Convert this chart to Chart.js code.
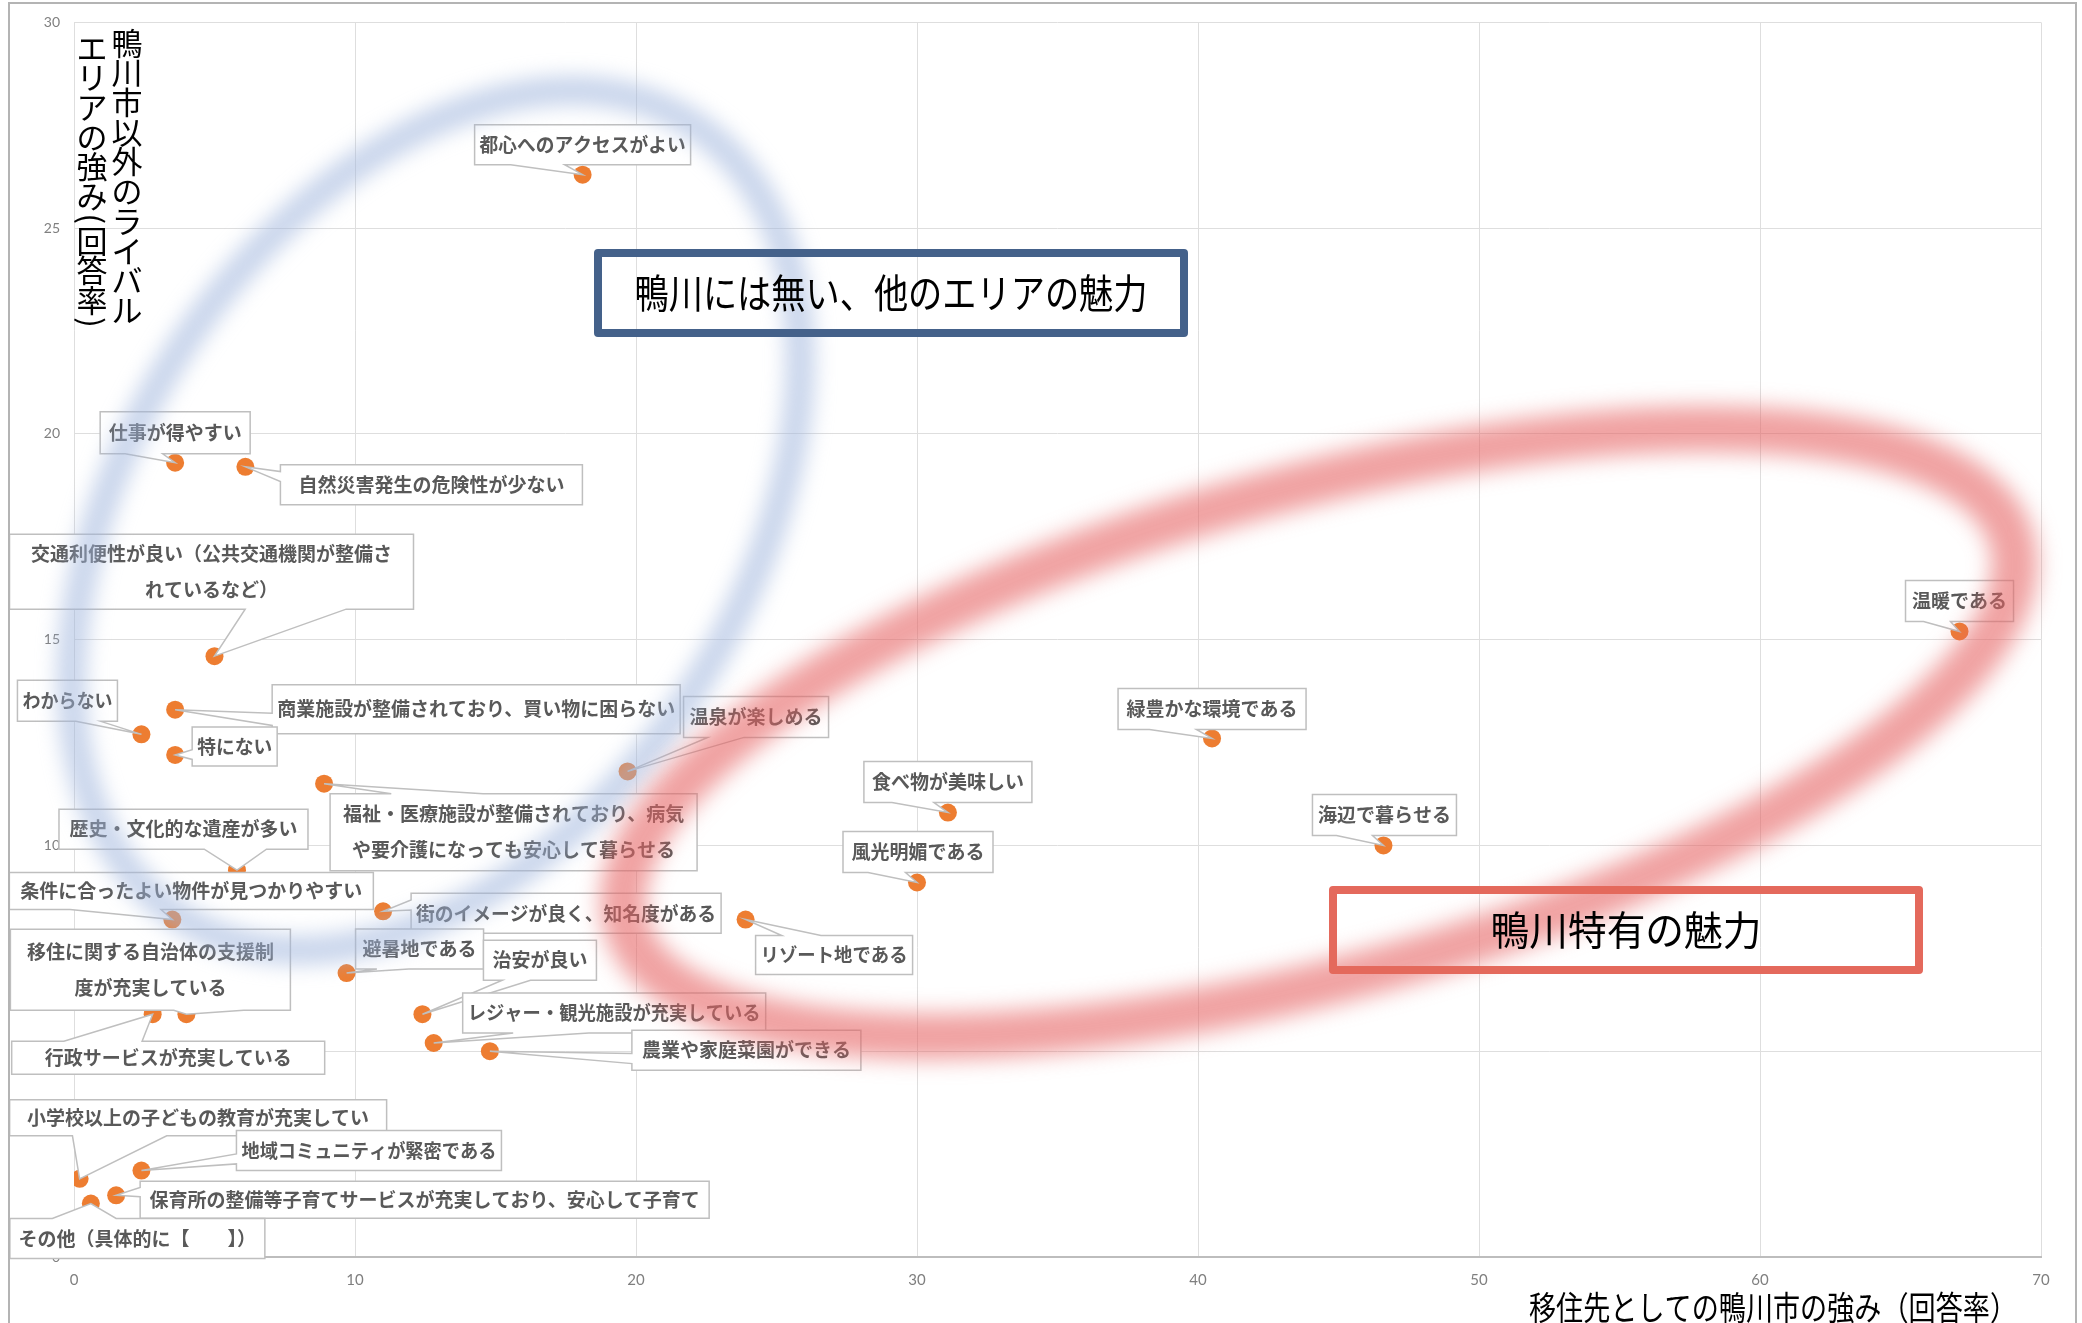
<!DOCTYPE html>
<html lang="ja">
<head>
<meta charset="utf-8">
<title>鴨川市の強み</title>
<script src="https://cdn.jsdelivr.net/npm/chart.js@4.4.1/dist/chart.umd.min.js"></script>
<style>
    html, body { margin: 0; padding: 0; background: #fff; }
    #wrap { width: 2082px; height: 1323px; }
</style>
</head>
<body>
<div id="wrap"><canvas id="myChart" width="2082" height="1323"></canvas></div>
<script>
// 項目
const categories = [
    '都心へのアクセスがよい',
    '仕事が得やすい',
    '自然災害発生の危険性が少ない',
    '交通利便性が良い（公共交通機関が整備されているなど）',
    'わからない',
    '商業施設が整備されており、買い物に困らない',
    '特にない',
    '福祉・医療施設が整備されており、病気や要介護になっても安心して暮らせる',
    '温泉が楽しめる',
    '歴史・文化的な遺産が多い',
    '条件に合ったよい物件が見つかりやすい',
    '街のイメージが良く、知名度がある',
    'リゾート地である',
    '風光明媚である',
    '食べ物が美味しい',
    '緑豊かな環境である',
    '海辺で暮らせる',
    '温暖である',
    '避暑地である',
    '治安が良い',
    'レジャー・観光施設が充実している',
    '農業や家庭菜園ができる',
    '移住に関する自治体の支援制度が充実している',
    '行政サービスが充実している',
    '小学校以上の子どもの教育が充実してい',
    '地域コミュニティが緊密である',
    '保育所の整備等子育てサービスが充実しており、安心して子育て',
    'その他（具体的に【　　】）'
];

// 移住先としての鴨川市の強み（回答率）
const kamogawaRate = [18.1, 3.6, 6.1, 5.0, 2.4, 3.6, 3.6, 8.9, 19.7, 5.8, 3.5, 11.0, 23.9, 30.0,
    31.1, 40.5, 46.6, 67.1, 9.7, 12.4, 12.8, 14.8, 4.0, 2.8, 0.2, 2.4, 1.5, 0.6];

// 鴨川市以外のライバルエリアの強み（回答率）
const rivalRate = [26.3, 19.3, 19.2, 14.6, 12.7, 13.3, 12.2, 11.5, 11.8, 9.4, 8.2, 8.4, 8.2, 9.1,
    10.8, 12.6, 10.0, 15.2, 6.9, 5.9, 5.2, 5.0, 5.9, 5.9, 1.9, 2.1, 1.5, 1.3];

const xTicks = [0, 10, 20, 30, 40, 50, 60, 70];
const yTicks = [0, 5, 10, 15, 20, 25, 30];

// 吹き出しの位置（点からのずれ, 幅, 高さ, 改行位置）
const calloutLayout = [
    [-108, -50, 216, 40], [-75, -51, 150, 42], [35, -2, 302, 40], [-205, -122, 404, 75, 19],
    [-124, -54, 100, 41], [97, -25, 408, 49], [17, -28, 85, 39], [6, 10, 367, 77, 18],
    [56, -75, 145, 41], [-178, -61, 249, 40], [-163, -47, 364, 37], [28, -18, 310, 40],
    [10, 16, 157, 39], [-74, -51, 150, 41], [-84, -51, 168, 41], [-94, -50, 188, 41],
    [-71, -51, 144, 41], [-54, -51, 108, 41], [9, -44, 128, 40], [61, -74, 113, 40],
    [29, -50, 303, 40], [142, -21, 229, 40], [-176, -85, 280, 81, 13], [-141, 27, 313, 33],
    [-70, -79, 377, 36], [95, -40, 265, 40], [24, -14, 569, 37], [-81, 15, 255, 40]
];

const JP = '"Noto Sans CJK JP", "Noto Sans", sans-serif';
Chart.defaults.font.family = JP;

function calloutPath(ctx, l, t, w, h, tx, ty) {
    const cx = l + w / 2, cy = t + h / 2;
    const dx = tx - cx, dy = ty - cy;
    const dq = dx * h / w;
    const r = l + w, b = t + h;
    ctx.beginPath();
    ctx.moveTo(l, t);
    if (Math.abs(dy) > Math.abs(dq)) {
        const x1 = l + w * (dx > 0 ? 7 : 2) / 12, x2 = l + w * (dx > 0 ? 10 : 5) / 12;
        if (dy < 0) { ctx.lineTo(x1, t); ctx.lineTo(tx, ty); ctx.lineTo(x2, t); }
        ctx.lineTo(r, t);
        ctx.lineTo(r, b);
        if (dy > 0) { ctx.lineTo(x2, b); ctx.lineTo(tx, ty); ctx.lineTo(x1, b); }
        ctx.lineTo(l, b);
    } else {
        const y1 = t + h * (dy > 0 ? 7 : 2) / 12, y2 = t + h * (dy > 0 ? 10 : 5) / 12;
        ctx.lineTo(r, t);
        if (dx > 0) { ctx.lineTo(r, y1); ctx.lineTo(tx, ty); ctx.lineTo(r, y2); }
        ctx.lineTo(r, b);
        ctx.lineTo(l, b);
        if (dx < 0) { ctx.lineTo(l, y2); ctx.lineTo(tx, ty); ctx.lineTo(l, y1); }
    }
    ctx.closePath();
}

function fitText(ctx, text, x, y, maxW, force) {
    const m = ctx.measureText(text).width;
    if (force || m > maxW) {
        ctx.save();
        ctx.translate(x, y);
        ctx.scale(maxW / m, 1);
        ctx.fillText(text, 0, 0);
        ctx.restore();
    } else {
        ctx.fillText(text, x, y);
    }
}

function drawRing(ctx, cx, cy, rx, ry, rot, width, color, blur) {
    ctx.save();
    ctx.filter = 'blur(' + blur + 'px)';
    ctx.strokeStyle = color;
    ctx.lineWidth = width;
    ctx.beginPath();
    ctx.ellipse(cx, cy, rx, ry, rot, 0, Math.PI * 2);
    ctx.stroke();
    ctx.restore();
}

function drawVertical(ctx, text, x, y, pitch) {
    let cy = y;
    for (const ch of text) {
        if (ch === '(' || ch === ')') {
            const step = pitch * 0.5;
            ctx.save();
            ctx.translate(x, cy + step / 2);
            ctx.rotate(Math.PI / 2);
            ctx.fillText(ch, 0, 0);
            ctx.restore();
            cy += step;
        } else {
            ctx.fillText(ch, x, cy + pitch / 2);
            cy += pitch;
        }
    }
}

function drawBox(ctx, l, t, r, b, color, text, textW) {
    ctx.save();
    ctx.strokeStyle = color;
    ctx.lineWidth = 8;
    ctx.lineJoin = 'round';
    ctx.strokeRect(l + 4, t + 4, r - l - 8, b - t - 8);
    ctx.fillStyle = '#000';
    ctx.font = '40px ' + JP;
    ctx.textAlign = 'center';
    ctx.textBaseline = 'middle';
    fitText(ctx, text, (l + r) / 2, (t + b) / 2, textW, true);
    ctx.restore();
}

const overlay = {
    id: 'overlay',
    afterDatasetsDraw(chart) {
        const ctx = chart.ctx;
        const pts = chart.getDatasetMeta(0).data;
        const xs = chart.scales.x, ys = chart.scales.y;

        // 吹き出し
        ctx.save();
        ctx.font = 'bold 19px ' + JP;
        ctx.textAlign = 'center';
        ctx.textBaseline = 'middle';
        pts.forEach(function (p, i) {
            const lay = calloutLayout[i];
            const l = p.x + lay[0], t = p.y + lay[1], w = lay[2], h = lay[3];
            calloutPath(ctx, l, t, w, h, p.x, p.y);
            ctx.fillStyle = '#fff';
            ctx.fill();
            ctx.strokeStyle = '#bfbfbf';
            ctx.lineWidth = 1.5;
            ctx.stroke();
            ctx.fillStyle = '#595959';
            const name = categories[i];
            if (lay[4]) {
                fitText(ctx, name.slice(0, lay[4]), l + w / 2, t + h / 2 - 18, w - 10);
                fitText(ctx, name.slice(lay[4]), l + w / 2, t + h / 2 + 18, w - 10);
            } else {
                fitText(ctx, name, l + w / 2, t + h / 2, w - 10);
            }
        });
        ctx.restore();

        // 楕円の囲み
        drawRing(ctx, xs.getPixelForValue(12.88), ys.getPixelForValue(17.9), 472, 308,
            -57 * Math.PI / 180, 30, 'rgba(160, 182, 222, 0.56)', 10);
        drawRing(ctx, xs.getPixelForValue(44.3), ys.getPixelForValue(12.74), 719, 244,
            -15.5 * Math.PI / 180, 46, 'rgba(230, 100, 100, 0.6)', 11);

        // 説明の枠
        drawBox(ctx, 594, 249, 1188, 337, '#44618a', '鴨川には無い、他のエリアの魅力', 513);
        drawBox(ctx, 1329, 886, 1923, 974, '#e4695c', '鴨川特有の魅力', 271);
    },
    afterDraw(chart) {
        const ctx = chart.ctx;
        ctx.save();
        // 外枠
        ctx.strokeStyle = '#b4b4b4';
        ctx.lineWidth = 2;
        ctx.beginPath();
        ctx.moveTo(9, 1323); ctx.lineTo(9, 3); ctx.lineTo(2076, 3); ctx.lineTo(2076, 1323);
        ctx.stroke();

        // 軸タイトル
        ctx.fillStyle = '#000';
        ctx.textAlign = 'center';
        ctx.textBaseline = 'middle';
        ctx.font = '31px ' + JP;
        drawVertical(ctx, '鴨川市以外のライバル', 127, 28, 29.7);
        drawVertical(ctx, 'エリアの強み(回答率)', 92, 33, 29.7);
        ctx.font = '33px ' + JP;
        fitText(ctx, '移住先としての鴨川市の強み（回答率）', 1773, 1307, 488, true);
        ctx.restore();
    }
};

new Chart(document.getElementById('myChart').getContext('2d'), {
    type: 'scatter',
    data: {
        datasets: [{
            label: '回答率',
            data: kamogawaRate.map(function (v, i) { return { x: v, y: rivalRate[i] }; }),
            backgroundColor: '#ed7d31',
            borderWidth: 0,
            pointRadius: 9,
            pointHoverRadius: 9
        }]
    },
    options: {
        responsive: false,
        animation: false,
        devicePixelRatio: 1,
        events: [],
        layout: { padding: { left: 0, right: 41, top: 17, bottom: 0 } },
        plugins: { legend: { display: false }, tooltip: { enabled: false } },
        scales: {
            x: {
                type: 'linear',
                min: 0,
                max: 70,
                afterBuildTicks: function (s) { s.ticks = xTicks.map(function (v) { return { value: v }; }); },
                afterFit: function (s) { s.height = 66; },
                grid: { color: '#dedede', lineWidth: 1, drawTicks: false },
                border: { display: true, color: '#bdbdbd', width: 2 },
                ticks: { color: '#7f7f7f', font: { size: 15, family: 'Lato' }, padding: 14, maxRotation: 0 }
            },
            y: {
                type: 'linear',
                min: 0,
                max: 30,
                afterBuildTicks: function (s) { s.ticks = yTicks.map(function (v) { return { value: v }; }); },
                afterFit: function (s) { s.width = 74; },
                grid: { color: '#dedede', lineWidth: 1, drawTicks: false },
                border: { display: false },
                ticks: { color: '#7f7f7f', font: { size: 14, family: 'Lato' }, padding: 14 }
            }
        }
    },
    plugins: [overlay]
});
</script>
</body>
</html>
